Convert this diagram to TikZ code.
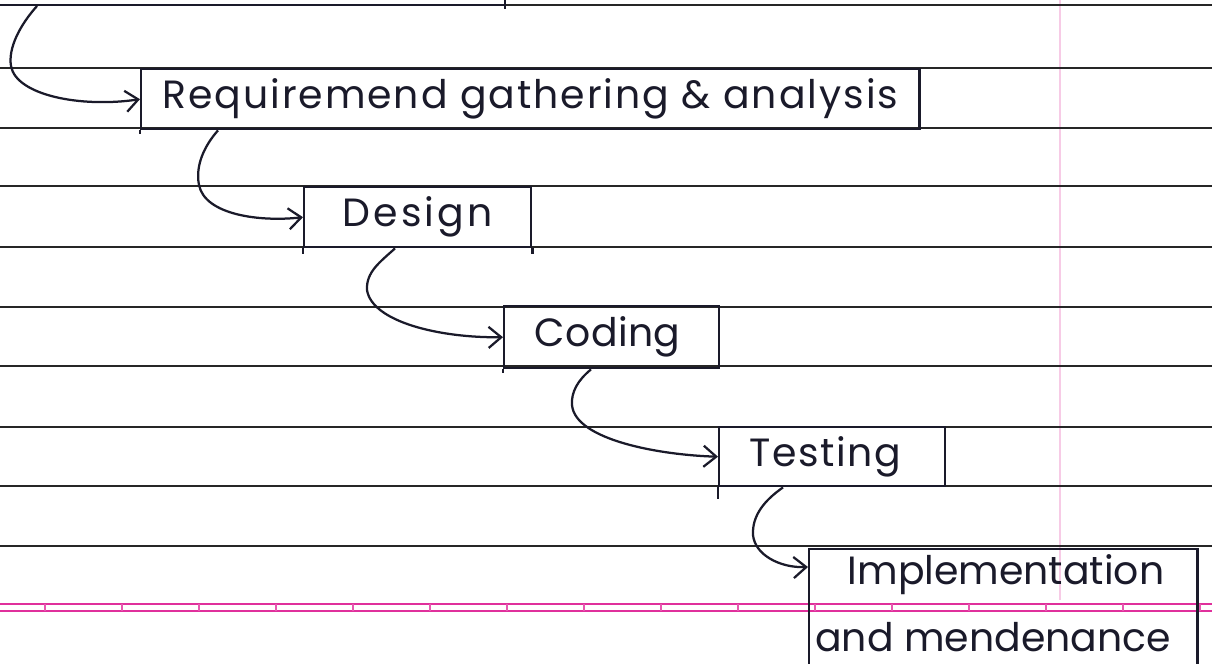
\documentclass[tikz,border=0pt]{standalone}
\usepackage{fontspec}
\setmainfont{Poppins}
\newfontfamily\handfont{Poppins}
\newcommand\handspread[1]{\addfontfeature{LetterSpace=#1}}
\usetikzlibrary{arrows.meta,calc}
\definecolor{ink}{HTML}{1A1A2A}
\definecolor{rulecol}{HTML}{262626}
\definecolor{marginpink}{HTML}{E0309C}

\begin{document}
\begin{tikzpicture}[x=0.025cm,y=-0.025cm,
  ruling/.style={rulecol, line width=1.6pt},
  stage/.style={draw=ink, line width=1.7pt, inner sep=0pt, anchor=north west,
    text=ink, font=\handfont\fontsize{28}{32}\selectfont},
  hand/.style={text=ink, font=\handfont\fontsize{28}{32}\selectfont, inner sep=0pt},
  edge/.style={ink, line width=1.7pt},
  flow/.style={ink, line width=1.6pt, -{Straight Barb[length=9pt,width=15pt]}},
]
\useasboundingbox (0,0) rectangle (1212,664);
\fill[white] (0,0) rectangle (1212,664);

% faint margin rule
\draw[marginpink!25, line width=1.4pt] (1060,0) -- (1060,600);

% ruled lines of the page
\foreach \y in {5,68,128,186,247,307,366,427,486,546}
  \draw[ruling] (0,\y) -- (1212,\y);

% pink double line with its small ticks
\draw[marginpink, line width=1.6pt] (0,604) -- (1212,604) (0,611) -- (1212,611);
\foreach \x in {45,122,...,1212}
  \draw[marginpink!80, line width=0.8pt] (\x,604) -- (\x,611);

% end of the previous box at the top
\draw[edge] (0,5) -- (505,5);
\draw[edge] (505,0) -- (505,9);

% stages
\node[stage, minimum width=19.45cm, minimum height=1.5cm] (req) at (140,68)
  {\handspread{5}Requiremend gathering \& analysis};
\node[stage, minimum width=5.675cm, minimum height=1.5cm] (design) at (303,186)
  {\handspread{8}Design};
\node[stage, minimum width=5.375cm, minimum height=1.55cm] (coding) at (503,305)
  {\hspace*{-6pt}\handspread{1}Coding};
\node[stage, minimum width=5.65cm, minimum height=1.475cm] (testing) at (718,426)
  {\hspace*{-10pt}\handspread{4}Testing};
\node[stage, minimum width=9.7cm, minimum height=3.5cm] (impl) at (808,548) {};
\node[hand] (impl1) at (1006,575) {Implementation};
\node[hand] (impl2) at (993,637) {and mendenance};

% edges running past the box corners
\draw[edge] (req.south west) -- ++(0,4);
\draw[edge] (design.south west) -- ++(0,6);
\draw[edge] (design.south east) -- ++(0,6);
\draw[edge] (coding.south west) -- ++(0,4);
\draw[edge] (testing.south west) -- ++(0,12);

% flow between stages
\coordinate (start) at (37,6);
\draw[flow] (start) .. controls (20,25) and (8,48) .. (11,66)
  .. controls (16,95) and (80,108) .. (req.west);
\draw[flow] ($(req.south west)+(78,0)$) .. controls (205,145) and (195,165) .. (199,185)
  .. controls (205,215) and (260,222) .. (design.west);
\draw[flow] ($(design.south west)+(92,0)$) .. controls (380,262) and (366,272) .. (367,290)
  .. controls (372,322) and (440,338) .. (coding.west);
\draw[flow] ($(coding.south west)+(88,0)$) .. controls (578,380) and (571,392) .. (572,405)
  .. controls (575,440) and (660,455) .. (testing.west);
\draw[flow] ($(testing.south west)+(65,0)$) .. controls (765,500) and (752,515) .. (753,535)
  .. controls (755,555) and (780,568) .. ($(impl.north west)+(0,19)$);
\end{tikzpicture}
\end{document}
